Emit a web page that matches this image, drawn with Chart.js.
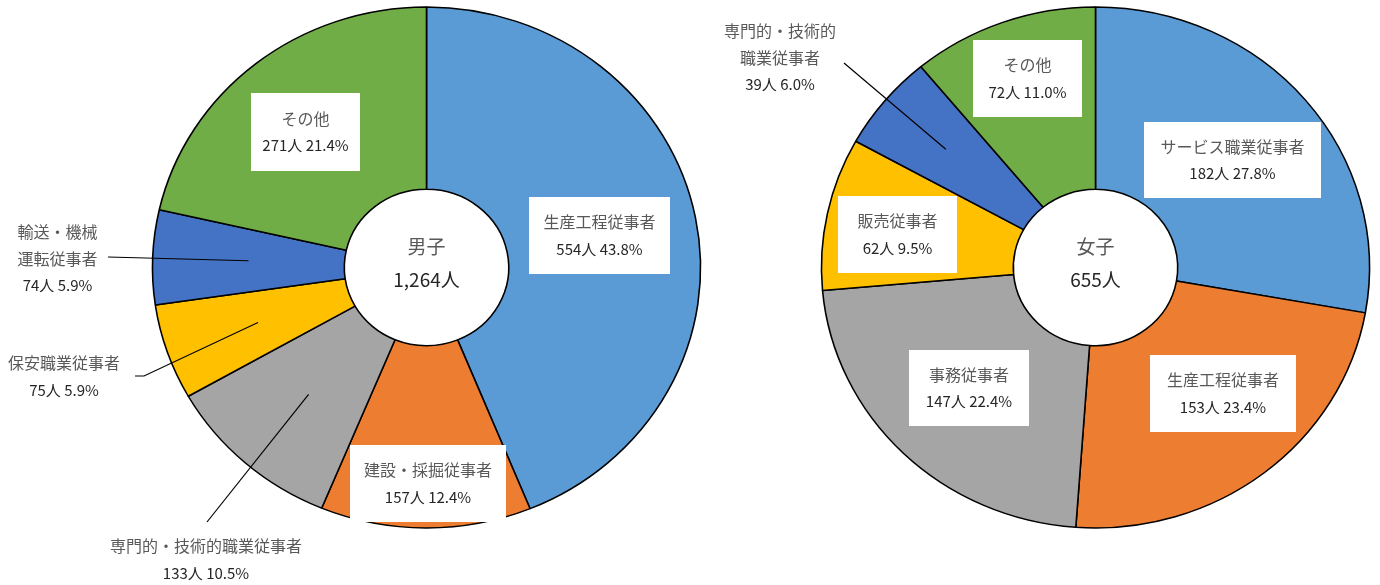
<!DOCTYPE html>
<html>
<head>
<meta charset="utf-8">
<script src="https://cdn.jsdelivr.net/npm/chart.js@4.4.1/dist/chart.umd.min.js"></script>
<style>
    body { margin: 0; background: #fff; }
    .holder { position: absolute; left: 0; top: 0; width: 1380px; height: 585px; }
</style>
</head>
<body>
<div class="holder"><canvas id="maleChart"></canvas></div>
<div class="holder"><canvas id="femaleChart"></canvas></div>
<script>
"use strict";

// Male (男子) breakdown
var maleLabels = ['生産工程従事者', '建設・採掘従事者', '専門的・技術的職業従事者', '保安職業従事者', '輸送・機械運転従事者', 'その他'];
var maleCounts = [554, 157, 133, 75, 74, 271];
var malePercents = [43.8, 12.4, 10.5, 5.9, 5.9, 21.4];

// Female (女子) breakdown
var femaleLabels = ['サービス職業従事者', '生産工程従事者', '事務従事者', '販売従事者', '専門的・技術的職業従事者', 'その他'];
var femaleCounts = [182, 153, 147, 62, 39, 72];
var femalePercents = [27.8, 23.4, 22.4, 9.5, 6.0, 11.0];

var sliceColors = ['#5B9BD5', '#ED7D31', '#A5A5A5', '#FFC000', '#4472C4', '#70AD47'];

var FONT = '"Noto Sans CJK JP", "Noto Sans", sans-serif';

// the original pies are a little wider than tall
var STRETCH_X = 1.052;

var PieCharts = function () {

    // label placement, offsets from the pie centre
    var malePlaces = [
        { dx: 173, dy: -32, box: [141, 77] },
        { dx: 1.5, dy: 216, box: [156, 77] },
        { dx: -220.5, dy: 292, names: ['専門的・技術的職業従事者'], leader: [[-219.5, 254.5]], r: 0.65 },
        { dx: -362.5, dy: 109, leader: [[-291.5, 108.5], [-282.5, 108.5]], r: 0.65 },
        { dx: -369, dy: -9, names: ['輸送・機械', '運転従事者'], leader: [[-318.5, -10.5]], r: 0.65 },
        { dx: -121, dy: -135.5, box: [109, 78] }
    ];

    var femalePlaces = [
        { dx: 137, dy: -107.5, box: [177, 76] },
        { dx: 127.5, dy: 126, box: [146, 77] },
        { dx: -126.5, dy: 120.5, box: [120, 76] },
        { dx: -198, dy: -33, box: [119, 77] },
        { dx: -315.5, dy: -210, names: ['専門的・技術的', '職業従事者'], leader: [[-251.5, -204.5]], r: 0.71 },
        { dx: -68, dy: -189, box: [109, 77] }
    ];

    var stretchPlugin = {
        id: 'stretch',
        beforeDatasetsDraw: function (chart) {
            var arc = chart.getDatasetMeta(0).data[0];
            var ctx = chart.ctx;
            ctx.save();
            ctx.translate(arc.x, arc.y);
            ctx.scale(STRETCH_X, 1);
            ctx.translate(-arc.x, -arc.y);
        },
        afterDatasetsDraw: function (chart) {
            chart.ctx.restore();
        }
    };

    var labelPlugin = {
        id: 'sliceLabels',
        afterDraw: function (chart, args, opts) {
            var ctx = chart.ctx;
            var meta = chart.getDatasetMeta(0);
            var cx = meta.data[0].x;
            var cy = meta.data[0].y;
            var lineGap = 27;

            ctx.save();
            ctx.textAlign = 'center';
            ctx.textBaseline = 'middle';

            // centre title
            ctx.font = '19px ' + FONT;
            ctx.fillStyle = '#595959';
            ctx.fillText(opts.title, cx, cy - 21);
            ctx.fillStyle = '#262626';
            ctx.fillText(opts.total, cx, cy + 12);

            opts.places.forEach(function (p, i) {
                var arc = meta.data[i];
                var x = cx + p.dx;
                var y = cy + p.dy;

                if (p.leader) {
                    var mid = (arc.startAngle + arc.endAngle) / 2;
                    var rr = arc.outerRadius * p.r;
                    ctx.beginPath();
                    ctx.moveTo(cx + p.leader[0][0], cy + p.leader[0][1]);
                    for (var k = 1; k < p.leader.length; k++) {
                        ctx.lineTo(cx + p.leader[k][0], cy + p.leader[k][1]);
                    }
                    ctx.lineTo(cx + Math.cos(mid) * rr * STRETCH_X, cy + Math.sin(mid) * rr);
                    ctx.strokeStyle = '#000';
                    ctx.lineWidth = 1.2;
                    ctx.stroke();
                }

                if (p.box) {
                    ctx.fillStyle = '#fff';
                    ctx.fillRect(x - p.box[0] / 2, y - p.box[1] / 2, p.box[0], p.box[1]);
                }

                var names = p.names || [opts.labels[i]];
                var lines = names.concat([opts.counts[i] + '人 ' + opts.percents[i].toFixed(1) + '%']);
                var top = y - (lines.length - 1) * lineGap / 2;
                lines.forEach(function (txt, j) {
                    var isNum = j === lines.length - 1;
                    ctx.font = (isNum ? '15px ' : '16px ') + FONT;
                    ctx.fillStyle = isNum ? '#262626' : '#595959';
                    ctx.fillText(txt, x, top + j * lineGap);
                });
            });
            ctx.restore();
        }
    };

    var makeChart = function (id, labels, counts, percents, places, title, total, padding) {
        var el = document.getElementById(id);
        if (!el) {
            return;
        }
        new Chart(el, {
            type: 'doughnut',
            data: {
                labels: labels,
                datasets: [{
                    data: counts,
                    backgroundColor: sliceColors,
                    borderColor: '#000',
                    borderWidth: 1.5,
                    hoverOffset: 0
                }]
            },
            options: {
                responsive: true,
                maintainAspectRatio: false,
                animation: false,
                radius: 260.5,
                cutout: '30%',
                layout: { padding: padding },
                plugins: {
                    legend: { display: false },
                    tooltip: { enabled: false },
                    sliceLabels: {
                        labels: labels,
                        counts: counts,
                        percents: percents,
                        places: places,
                        title: title,
                        total: total
                    }
                }
            },
            plugins: [stretchPlugin, labelPlugin]
        });
    };

    return {
        init: function () {
            makeChart('maleChart', maleLabels, maleCounts, malePercents, malePlaces,
                '男子', '1,264人', { left: 0, right: 527, top: 0, bottom: 50 });
            makeChart('femaleChart', femaleLabels, femaleCounts, femalePercents, femalePlaces,
                '女子', '655人', { left: 811, right: 0, top: 0, bottom: 50 });
        }
    };

}();

PieCharts.init();
</script>
</body>
</html>
